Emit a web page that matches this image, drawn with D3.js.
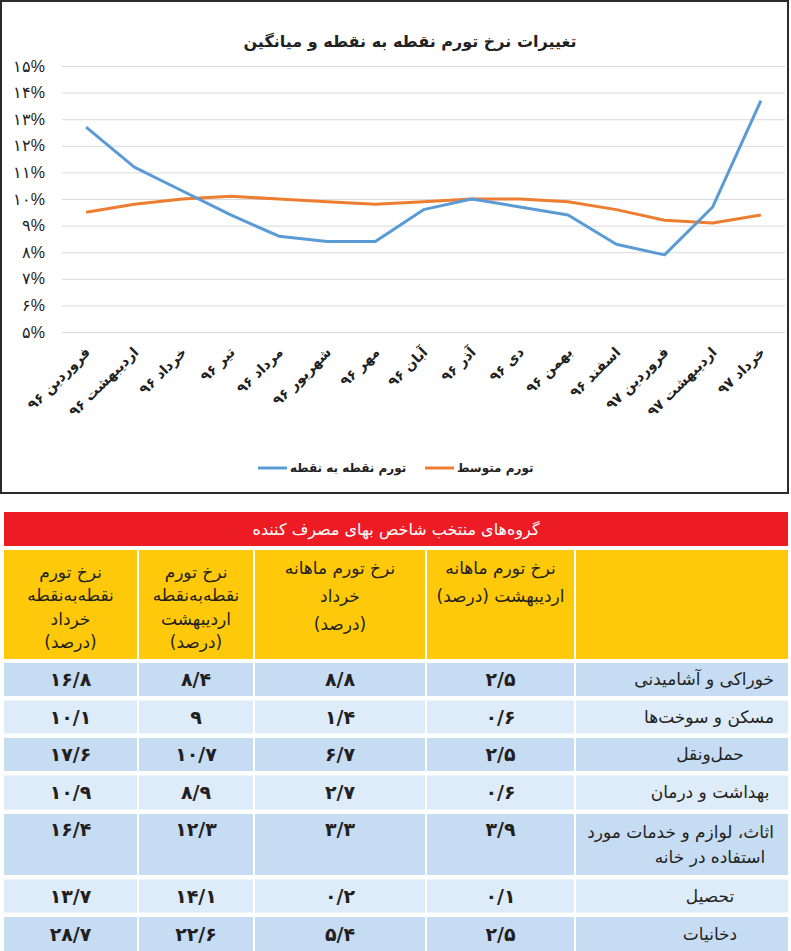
<!DOCTYPE html>
<html>
<head>
<meta charset="utf-8">
<script src="https://cdn.jsdelivr.net/npm/d3@7"></script>
<style>
  body { margin: 0; background: #fff; }
  svg { display: block; font-family: "DejaVu Sans", sans-serif; }
</style>
</head>
<body>
<div id="viz"></div>
<script>
/**
 * chart data
 */
var months = ["فروردین ۹۶", "اردیبهشت ۹۶", "خرداد ۹۶", "تیر ۹۶", "مرداد ۹۶", "شهریور ۹۶", "مهر ۹۶",
    "آبان ۹۶", "آذر ۹۶", "دی ۹۶", "بهمن ۹۶", "اسفند ۹۶", "فروردین ۹۷", "اردیبهشت ۹۷", "خرداد ۹۷"];
var pointToPoint = [12.7, 11.2, 10.3, 9.4, 8.6, 8.4, 8.4, 9.6, 10.0, 9.7, 9.4, 8.3, 7.9, 9.7, 13.7];
var average = [9.5, 9.8, 10.0, 10.1, 10.0, 9.9, 9.8, 9.9, 10.0, 10.0, 9.9, 9.6, 9.2, 9.1, 9.4];
var yTicks = [5, 6, 7, 8, 9, 10, 11, 12, 13, 14, 15];

var chartTitle = "تغییرات نرخ تورم نقطه به نقطه و میانگین";
var seriesNames = ["تورم نقطه به نقطه", "تورم متوسط"];

/**
 * table data
 */
var tableTitle = "گروه‌های منتخب شاخص بهای مصرف کننده";
var groups = [["خوراکی و آشامیدنی"], ["مسکن و سوخت‌ها"], ["حمل‌ونقل"], ["بهداشت و درمان"],
    ["اثاث، لوازم و خدمات مورد", "استفاده در خانه"], ["تحصیل"], ["دخانیات"]];
var monthlyOrdibehesht = [2.5, 0.6, 2.5, 0.6, 3.9, 0.1, 2.5];
var monthlyKhordad = [8.8, 1.4, 6.7, 2.7, 3.3, 0.2, 5.4];
var p2pOrdibehesht = [8.4, 9, 10.7, 8.9, 12.3, 14.1, 22.6];
var p2pKhordad = [16.8, 10.1, 17.6, 10.9, 16.4, 13.7, 28.7];
var colHeaders = [
    ["نرخ تورم", "نقطه‌به‌نقطه", "خرداد", "(درصد)"],
    ["نرخ تورم", "نقطه‌به‌نقطه", "اردیبهشت", "(درصد)"],
    ["نرخ تورم ماهانه", "خرداد", "(درصد)"],
    ["نرخ تورم ماهانه", "اردیبهشت (درصد)"],
    []
];

// persian digits, "/" as decimal mark
const toFa = s => String(s).replace(/\d/g, d => "۰۱۲۳۴۵۶۷۸۹"[d]);
const fmtNum = v => toFa(String(v).replace(".", "/"));

var W = 791, H = 951;
var svg = d3.select("#viz").append("svg")
    .attr("width", W)
    .attr("height", H);

/**
 * the line chart in its framed box
 */
const drawChart = () => {
    svg.append("rect")
        .attr("x", 1).attr("y", 1)
        .attr("width", 787).attr("height", 492)
        .attr("fill", "#fff")
        .attr("stroke", "#2b2b2b")
        .attr("stroke-width", 2);

    var x = d3.scaleBand()
        .domain(months)
        .range([62, 785]);
    var cx = d => x(d) + x.bandwidth() / 2;

    var y = d3.scaleLinear()
        .domain([5, 15])
        .range([332, 66]);

    // gridlines + tick labels
    var yAxis = svg.append("g")
        .attr("transform", "translate(62,0)")
        .call(d3.axisLeft(y).tickValues(yTicks).tickSize(-723).tickPadding(17)
            .tickFormat(d => toFa(d) + "%"));
    yAxis.select(".domain").remove();
    yAxis.selectAll(".tick line").attr("stroke", "#d9d9d9");
    yAxis.selectAll(".tick text")
        .attr("fill", "#222")
        .style("font-size", "16px");

    // x labels, rotated
    svg.append("g").selectAll("text")
        .data(months)
        .enter()
        .append("text")
        .attr("transform", d => "translate(" + (cx(d) + 5) + ",353) rotate(-45)")
        .attr("text-anchor", "end")
        .style("font-size", "14px")
        .style("font-weight", "bold")
        .attr("fill", "#222")
        .text(d => d);

    var line = d3.line()
        .x((d, i) => cx(months[i]))
        .y(d => y(d));

    svg.append("path")
        .datum(average)
        .attr("d", line)
        .attr("fill", "none")
        .attr("stroke", "#ed7d31")
        .attr("stroke-width", 3)
        .attr("stroke-linejoin", "round");

    svg.append("path")
        .datum(pointToPoint)
        .attr("d", line)
        .attr("fill", "none")
        .attr("stroke", "#5b9bd5")
        .attr("stroke-width", 3)
        .attr("stroke-linejoin", "round");

    // title
    svg.append("text")
        .attr("x", 410).attr("y", 47)
        .attr("text-anchor", "middle")
        .style("font-size", "16px")
        .style("font-weight", "bold")
        .attr("fill", "#222")
        .text(chartTitle);

    // legend
    var legend = [
        { name: seriesNames[0], color: "#5b9bd5", x: 258 },
        { name: seriesNames[1], color: "#ed7d31", x: 425 }
    ];
    var lg = svg.append("g").selectAll("g")
        .data(legend)
        .enter()
        .append("g")
        .attr("transform", d => "translate(" + d.x + ",468)");
    lg.append("line")
        .attr("x1", 0).attr("x2", 29)
        .attr("stroke", d => d.color)
        .attr("stroke-width", 3);
    lg.append("text")
        .attr("x", 32).attr("dy", "0.35em")
        .style("font-size", "12px")
        .style("font-weight", "bold")
        .attr("fill", "#222")
        .text(d => d.name);
};

/**
 * the table under the chart
 */
const drawTable = () => {
    var colEdges = [4, 137, 139, 253, 255, 425, 427, 574, 576, 788];
    var cols = d3.range(5).map(i => ({ x0: colEdges[i * 2], x1: colEdges[i * 2 + 1] }));
    var rowHeights = [33, 33, 33, 34, 61, 33, 34];
    var rowTops = [];
    rowHeights.reduce((t, h) => { rowTops.push(t); return t + h + 4.5; }, 663);

    // red band
    svg.append("rect")
        .attr("x", 4).attr("y", 512)
        .attr("width", 784).attr("height", 34)
        .attr("fill", "#ed1c24");
    svg.append("text")
        .attr("x", 396).attr("y", 529)
        .attr("dy", "0.35em")
        .attr("text-anchor", "middle")
        .attr("fill", "#fff")
        .style("font-size", "16px")
        .text(tableTitle);

    // yellow header cells
    var hd = svg.append("g").selectAll("g")
        .data(cols)
        .enter()
        .append("g");
    hd.append("rect")
        .attr("x", d => d.x0).attr("y", 550)
        .attr("width", d => d.x1 - d.x0).attr("height", 109)
        .attr("fill", "#fec80b");
    hd.each(function (d, i) {
        var lines = colHeaders[i];
        var top = lines.length === 4 ? 572 : 568;
        var lh = lines.length === 4 ? 23.3 : 28;
        d3.select(this).selectAll("text")
            .data(lines)
            .enter()
            .append("text")
            .attr("x", (d.x0 + d.x1) / 2)
            .attr("y", (t, j) => top + j * lh)
            .attr("dy", "0.35em")
            .attr("text-anchor", "middle")
            .attr("direction", "rtl")
            .attr("fill", "#231f20")
            .style("font-size", "17px")
            .text(t => t);
    });

    // data rows
    var columnsData = [p2pKhordad, p2pOrdibehesht, monthlyKhordad, monthlyOrdibehesht];
    var rows = svg.append("g").selectAll("g")
        .data(groups)
        .enter()
        .append("g");
    rows.each(function (g, r) {
        var sel = d3.select(this);
        var top = rowTops[r], h = rowHeights[r];
        var tall = g.length > 1;
        sel.selectAll("rect")
            .data(cols)
            .enter()
            .append("rect")
            .attr("x", d => d.x0).attr("y", top)
            .attr("width", d => d.x1 - d.x0).attr("height", h)
            .attr("fill", r % 2 === 0 ? "#c6dcf3" : "#deebf8");
        sel.selectAll("text.num")
            .data(columnsData)
            .enter()
            .append("text")
            .attr("class", "num")
            .attr("x", (d, i) => (cols[i].x0 + cols[i].x1) / 2)
            .attr("y", tall ? top + 15 : top + h / 2)
            .attr("dy", "0.35em")
            .attr("text-anchor", "middle")
            .attr("fill", "#231f20")
            .style("font-size", "19px")
            .style("font-weight", "bold")
            .text(d => fmtNum(d[r]));
        sel.selectAll("text.grp")
            .data(g)
            .enter()
            .append("text")
            .attr("class", "grp")
            .attr("y", (t, j) => tall ? top + 18 + j * 25 : top + h / 2)
            .attr("dy", "0.35em")
            .attr("text-anchor", "middle")
            .attr("direction", "rtl")
            .attr("fill", "#231f20")
            .style("font-size", "17px")
            .text(t => t)
            .attr("x", function () {
                // centred, but kept off the right edge of the cell
                var w = this.getComputedTextLength();
                return Math.min(710, 774 - w / 2);
            });
    });
};

drawChart();
drawTable();
</script>
</body>
</html>
